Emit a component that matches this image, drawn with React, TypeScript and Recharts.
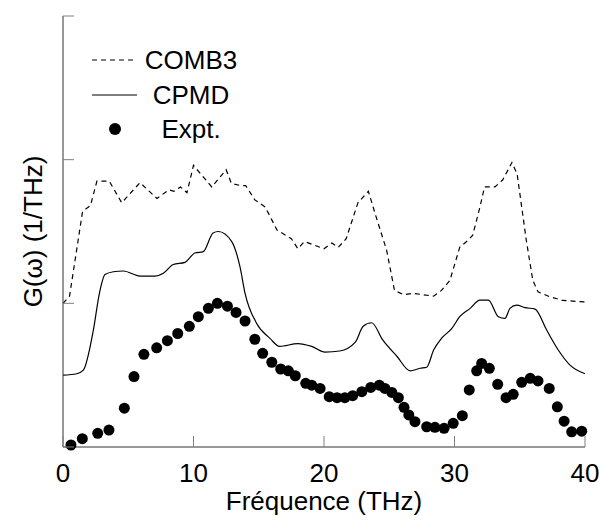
import * as React from "react";
import {
  ComposedChart,
  Line,
  Scatter,
  XAxis,
  YAxis,
} from "recharts";

// COMB3 (courbe en tirets)
const comb3Freq = [0, 0.5, 1.5, 2.1, 2.6, 3.55, 4.5, 5.9, 7.2, 8.1, 8.5, 9.0, 9.5, 10.0, 11.4, 12.5, 12.9, 13.6, 14.0, 14.7, 15.5, 16.4, 17.5, 18.0, 18.5, 20.0, 20.6, 21.1, 21.7, 22.6, 23.4, 24.0, 24.8, 25.4, 26.1, 26.8, 28.4, 29.0, 29.65, 30.4, 31.06, 31.4, 31.95, 32.3, 33.1, 33.7, 34.4, 34.8, 35.5, 36.0, 36.4, 37.3, 38.3, 40.0];
const comb3G = [1.0, 1.05, 1.64, 1.68, 1.85, 1.85, 1.7, 1.84, 1.73, 1.79, 1.78, 1.81, 1.77, 1.96, 1.81, 1.93, 1.835, 1.82, 1.82, 1.72, 1.67, 1.51, 1.45, 1.38, 1.43, 1.38, 1.42, 1.39, 1.45, 1.7, 1.78, 1.6, 1.37, 1.09, 1.06, 1.07, 1.05, 1.09, 1.16, 1.39, 1.44, 1.475, 1.67, 1.81, 1.81, 1.86, 1.98, 1.9, 1.44, 1.16, 1.08, 1.046, 1.02, 1.01];

// CPMD (trait plein)
const cpmdFreq = [0, 1.05, 1.56, 2.32, 2.79, 3.22, 3.86, 4.62, 5.9, 7.05, 7.69, 8.45, 9.35, 10.1, 10.75, 11.5, 11.9, 12.93, 13.56, 13.95, 14.84, 15.86, 16.6, 18.0, 19.06, 20.08, 21.2, 22.4, 23.0, 23.65, 24.5, 25.6, 26.6, 27.36, 27.87, 28.4, 29.0, 29.8, 30.4, 31.2, 31.95, 32.6, 33.36, 33.87, 34.25, 34.77, 35.4, 36.17, 37.06, 37.95, 38.85, 40.0];
const cpmdG = [0.5, 0.51, 0.535, 0.81, 1.07, 1.2, 1.22, 1.225, 1.19, 1.19, 1.21, 1.27, 1.285, 1.35, 1.36, 1.49, 1.5, 1.43, 1.255, 1.07, 0.86, 0.756, 0.7, 0.72, 0.7, 0.66, 0.668, 0.73, 0.84, 0.865, 0.745, 0.63, 0.53, 0.548, 0.555, 0.675, 0.756, 0.826, 0.907, 0.965, 1.023, 1.023, 0.907, 0.895, 0.965, 0.988, 0.97, 0.96, 0.814, 0.675, 0.57, 0.51];

// Expérience (points)
const exptFreq = [0.61, 1.48, 2.66, 3.52, 4.7, 5.44, 6.2, 7.18, 8.0, 8.79, 9.68, 10.37, 11.14, 11.83, 12.6, 13.26, 13.95, 14.7, 15.3, 16.0, 16.68, 17.27, 17.8, 18.6, 19.06, 19.7, 20.4, 21.0, 21.6, 22.2, 22.9, 23.58, 24.24, 24.67, 25.2, 25.7, 26.13, 26.5, 26.97, 27.87, 28.5, 29.2, 29.9, 30.6, 31.13, 31.7, 32.08, 32.67, 33.31, 33.95, 34.5, 35.15, 35.8, 36.4, 37.26, 37.88, 38.4, 38.98, 39.75];
const exptG = [0.014, 0.058, 0.095, 0.118, 0.27, 0.49, 0.645, 0.69, 0.74, 0.79, 0.84, 0.907, 0.965, 1.0, 0.98, 0.937, 0.877, 0.75, 0.652, 0.59, 0.543, 0.53, 0.496, 0.443, 0.43, 0.408, 0.35, 0.343, 0.343, 0.357, 0.385, 0.415, 0.43, 0.408, 0.38, 0.343, 0.276, 0.223, 0.176, 0.141, 0.137, 0.13, 0.165, 0.218, 0.397, 0.53, 0.582, 0.548, 0.436, 0.343, 0.367, 0.45, 0.478, 0.46, 0.408, 0.28, 0.18, 0.106, 0.11];

const xTicks = [0, 10, 20, 30, 40];
const yTicks = [0, 1, 2, 3];

const toPoints = (f: number[], g: number[]) => f.map((v, i) => ({ f: v, g: g[i] }));

const comb3Data = toPoints(comb3Freq, comb3G);
const cpmdData = toPoints(cpmdFreq, cpmdG);
const exptData = toPoints(exptFreq, exptG);

const FONT = "'Liberation Sans', Arial, sans-serif";
const FONT_SIZE = 26;
const TICK_COLOR = "#808080";
const AXIS_COLOR = "#333";

const BottomTick = (props: any) => {
  const { x, y, payload } = props;
  return (
    <g>
      <line x1={x} y1={y} x2={x} y2={y - 11} stroke={TICK_COLOR} />
      <text x={x} y={y + 35} textAnchor="middle" fontSize={FONT_SIZE} fontFamily={FONT} fill="#000">
        {payload.value}
      </text>
    </g>
  );
};

const TopTick = (props: any) => {
  const { x, y } = props;
  return <line x1={x} y1={y} x2={x} y2={y + 11} stroke={TICK_COLOR} />;
};

const LeftTick = (props: any) => {
  const { x, y } = props;
  return <line x1={x} y1={y} x2={x + 11} y2={y} stroke={TICK_COLOR} />;
};

const RightTick = (props: any) => {
  const { x, y } = props;
  return <line x1={x} y1={y} x2={x - 11} y2={y} stroke={TICK_COLOR} />;
};

const Dot = (props: any) => <circle cx={props.cx} cy={props.cy} r={5.5} fill="#000" />;

function ChartLegend() {
  return (
    <svg
      width={260}
      height={150}
      style={{ position: "absolute", left: 0, top: 0, pointerEvents: "none" }}
    >
      <line x1={92} y1={60} x2={137} y2={60} stroke="#000" strokeWidth={1} strokeDasharray="5 4" />
      <text x={191} y={69} textAnchor="middle" fontSize={FONT_SIZE} fontFamily={FONT}>COMB3</text>
      <line x1={92} y1={95} x2={137} y2={95} stroke="#000" strokeWidth={1} />
      <text x={191} y={104} textAnchor="middle" fontSize={FONT_SIZE} fontFamily={FONT}>CPMD</text>
      <circle cx={115} cy={129} r={6} fill="#000" />
      <text x={191} y={138} textAnchor="middle" fontSize={FONT_SIZE} fontFamily={FONT}>Expt.</text>
    </svg>
  );
}

export default function App() {
  return (
    <div style={{ position: "absolute", left: 0, top: 0, width: 599, height: 521, background: "#fff" }}>
      <ComposedChart
        width={599}
        height={521}
        margin={{ top: 16, right: 14, bottom: 0, left: 0 }}
        style={{ fontFamily: FONT }}
      >
        <XAxis
          dataKey="f"
          type="number"
          domain={[0, 40]}
          ticks={xTicks}
          interval={0}
          height={74}
          tickSize={0}
          tickMargin={0}
          tickLine={false}
          tick={BottomTick}
          axisLine={{ stroke: AXIS_COLOR }}
          label={{
            value: "Fréquence (THz)",
            position: "insideBottom",
            offset: 11,
            style: { fontSize: FONT_SIZE, fontFamily: FONT, fill: "#000" },
          }}
        />
        <XAxis
          xAxisId="top"
          orientation="top"
          dataKey="f"
          type="number"
          domain={[0, 40]}
          ticks={xTicks}
          interval={0}
          height={0}
          tickSize={0}
          tickMargin={0}
          tickLine={false}
          tick={TopTick}
          axisLine={{ stroke: AXIS_COLOR }}
        />
        <YAxis
          type="number"
          domain={[0, 3]}
          ticks={yTicks}
          interval={0}
          width={63}
          tickSize={0}
          tickMargin={0}
          tickLine={false}
          tick={LeftTick}
          axisLine={{ stroke: AXIS_COLOR }}
          label={{
            value: "G(ω) (1/THz)",
            angle: -90,
            position: "insideLeft",
            offset: 33,
            style: { fontSize: FONT_SIZE, fontFamily: FONT, fill: "#000", textAnchor: "middle" },
          }}
        />
        <YAxis
          yAxisId="right"
          orientation="right"
          type="number"
          domain={[0, 3]}
          ticks={yTicks}
          interval={0}
          width={0}
          tickSize={0}
          tickMargin={0}
          tickLine={false}
          tick={RightTick}
          axisLine={{ stroke: AXIS_COLOR }}
        />
        <Line
          data={comb3Data}
          dataKey="g"
          name="COMB3"
          type="linear"
          stroke="#000"
          strokeWidth={1.2}
          strokeDasharray="5 4"
          dot={false}
          isAnimationActive={false}
        />
        <Line
          data={cpmdData}
          dataKey="g"
          name="CPMD"
          type="monotone"
          stroke="#000"
          strokeWidth={1.2}
          dot={false}
          isAnimationActive={false}
        />
        <Scatter
          data={exptData}
          dataKey="g"
          name="Expt."
          fill="#000"
          shape={Dot}
          isAnimationActive={false}
        />
      </ComposedChart>
      <ChartLegend />
    </div>
  );
}
